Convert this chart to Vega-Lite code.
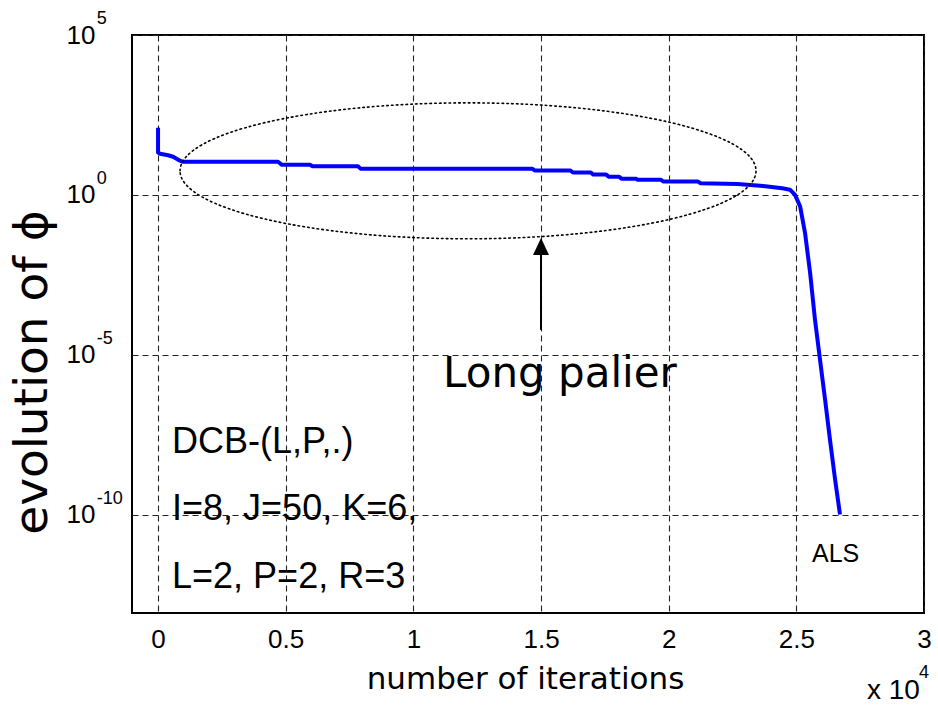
{
  "$schema": "https://vega.github.io/schema/vega-lite/v6.json",
  "width": 792,
  "height": 578,
  "autosize": {"type": "none"},
  "padding": {"left": 132, "top": 35, "right": 14, "bottom": 92},
  "background": "white",
  "config": {"view": {"stroke": "black", "strokeWidth": 2}, "font": "Liberation Sans"},
  "datasets": {
    "curve": [
      {"x": 0, "y": 126}, {"x": 0, "y": 21}, {"x": 80, "y": 19.3}, {"x": 390, "y": 17.3}, {"x": 590, "y": 15.5},
      {"x": 860, "y": 11.7}, {"x": 980, "y": 10.8}, {"x": 4700, "y": 10.8}, {"x": 4850, "y": 8.7}, {"x": 5950, "y": 8.7},
      {"x": 6050, "y": 7.8}, {"x": 7830, "y": 7.8}, {"x": 7930, "y": 6.6}, {"x": 14650, "y": 6.6}, {"x": 14750, "y": 5.8},
      {"x": 16150, "y": 5.8}, {"x": 16250, "y": 5.0}, {"x": 16950, "y": 5.0}, {"x": 17050, "y": 4.3}, {"x": 17550, "y": 4.3},
      {"x": 17650, "y": 3.7}, {"x": 18050, "y": 3.7}, {"x": 18150, "y": 3.2}, {"x": 18700, "y": 3.2}, {"x": 18800, "y": 2.95},
      {"x": 19700, "y": 2.95}, {"x": 19800, "y": 2.6}, {"x": 21150, "y": 2.6}, {"x": 21250, "y": 2.3}, {"x": 22700, "y": 2.2},
      {"x": 23700, "y": 1.9}, {"x": 24450, "y": 1.6}, {"x": 24750, "y": 1.45}, {"x": 24950, "y": 1.0}, {"x": 25150, "y": 0.43},
      {"x": 25340, "y": 0.065}, {"x": 25540, "y": 0.0036}, {"x": 25730, "y": 0.000125}, {"x": 25930, "y": 6.7e-6},
      {"x": 26130, "y": 3.7e-7}, {"x": 26320, "y": 2.1e-8}, {"x": 26520, "y": 1.2e-9}, {"x": 26710, "y": 1.0e-10}
    ],
    "ellipse": [{"x": 12141, "y": 5.64}],
    "arrow": [{"x": 15000, "y": 5.96e-5, "y2": 0.0164}],
    "arrowhead": [{"x": 15000, "y": 0.0244}],
    "bigtext": [{"x": 11162, "y": 9.8e-7, "t": "Long palier"}],
    "params": [
      {"x": 548, "y": 8.4e-9, "t": "DCB-(L,P,.)"},
      {"x": 548, "y": 6.7e-11, "t": "I=8, J=50, K=6,"},
      {"x": 548, "y": 5.0e-13, "t": "L=2, P=2, R=3"}
    ],
    "als": [{"x": 25614, "y": 3.3e-12, "t": "ALS"}],
    "exponents": [
      {"x": -2400, "y": 100000, "t": "5"},
      {"x": -2400, "y": 1, "t": "0"},
      {"x": -2400, "y": 1e-5, "t": "-5"},
      {"x": -2400, "y": 1e-10, "t": "-10"}
    ],
    "scale10": [{"x": 27768, "y": 1.65e-16, "t": "x 10"}],
    "scaleexp": [{"x": 29800, "y": 7.5e-16, "t": "4"}]
  },
  "encoding": {
    "x": {
      "field": "x", "type": "quantitative",
      "scale": {"domain": [-1020, 30000], "nice": false, "zero": false},
      "axis": {
        "values": [0, 5000, 10000, 15000, 20000, 25000, 30000],
        "labelExpr": "'' + (datum.value / 10000)",
        "labelFont": "Liberation Sans", "labelFontSize": 26, "labelColor": "black",
        "labelPadding": 13, "labelBaseline": "top", "labelFlush": false, "labelOverlap": false,
        "ticks": false, "tickSize": 0, "domain": false,
        "grid": true, "gridColor": "#222222", "gridDash": [6, 4], "gridWidth": 1.1, "gridOpacity": 1,
        "title": "number of iterations", "titleFont": "DejaVu Sans", "titleFontSize": 31,
        "titleFontWeight": "normal", "titleColor": "black", "titleBaseline": "alphabetic",
        "titleX": 393, "titleY": 75, "titleAlign": "center"
      }
    },
    "y": {
      "field": "y", "type": "quantitative",
      "scale": {"type": "log", "domain": [8.3e-14, 100000], "nice": false},
      "axis": {
        "values": [1e-10, 1e-5, 1, 100000],
        "labelExpr": "'10'",
        "labelFont": "Liberation Sans", "labelFontSize": 26, "labelColor": "black",
        "labelAlign": "left", "labelPadding": 66, "labelBaseline": "middle", "labelFlush": false, "labelOverlap": false,
        "ticks": false, "tickSize": 0, "domain": false,
        "grid": true, "gridColor": "#222222", "gridDash": [6, 4], "gridWidth": 1.1, "gridOpacity": 1,
        "title": "evolution of ϕ", "titleFont": "DejaVu Sans", "titleFontSize": 47,
        "titleFontWeight": "normal", "titleColor": "black", "titleAngle": 270, "titleBaseline": "alphabetic",
        "titleX": -86, "titleY": 337, "titleAlign": "center"
      }
    }
  },
  "layer": [
    {
      "data": {"name": "curve"},
      "mark": {"type": "line", "color": "#0000ff", "strokeWidth": 4, "strokeJoin": "round"}
    },
    {
      "data": {"name": "ellipse"},
      "mark": {
        "type": "point",
        "shape": "M-1,0C-1,-0.1303,-0.5523,-0.236,0,-0.236C0.5523,-0.236,1,-0.1303,1,0C1,0.1303,0.5523,0.236,0,0.236C-0.5523,0.236,-1,0.1303,-1,0Z",
        "size": 331776, "filled": false, "stroke": "black", "strokeWidth": 1.6,
        "strokeDash": [1.6, 3.2], "strokeCap": "round", "opacity": 1
      }
    },
    {
      "data": {"name": "arrow"},
      "mark": {"type": "rule", "color": "black", "strokeWidth": 2},
      "encoding": {"y2": {"field": "y2"}}
    },
    {
      "data": {"name": "arrowhead"},
      "mark": {"type": "point", "shape": "M0,-1L0.94,1L-0.94,1Z", "size": 289, "filled": true, "color": "black", "opacity": 1, "strokeWidth": 0}
    },
    {
      "data": {"name": "bigtext"},
      "mark": {"type": "text", "font": "DejaVu Sans", "fontSize": 42, "align": "left", "baseline": "alphabetic", "color": "black"},
      "encoding": {"text": {"field": "t"}}
    },
    {
      "data": {"name": "params"},
      "mark": {"type": "text", "font": "Liberation Sans", "fontSize": 36, "align": "left", "baseline": "alphabetic", "color": "black"},
      "encoding": {"text": {"field": "t"}}
    },
    {
      "data": {"name": "als"},
      "mark": {"type": "text", "font": "Liberation Sans", "fontSize": 25, "align": "left", "baseline": "alphabetic", "color": "black"},
      "encoding": {"text": {"field": "t"}}
    },
    {
      "data": {"name": "exponents"},
      "mark": {"type": "text", "font": "Liberation Sans", "fontSize": 18, "align": "left", "baseline": "alphabetic", "color": "black", "dy": -11},
      "encoding": {"text": {"field": "t"}}
    },
    {
      "data": {"name": "scale10"},
      "mark": {"type": "text", "font": "Liberation Sans", "fontSize": 28, "align": "left", "baseline": "alphabetic", "color": "black"},
      "encoding": {"text": {"field": "t"}}
    },
    {
      "data": {"name": "scaleexp"},
      "mark": {"type": "text", "font": "Liberation Sans", "fontSize": 18, "align": "left", "baseline": "alphabetic", "color": "black"},
      "encoding": {"text": {"field": "t"}}
    }
  ]
}
